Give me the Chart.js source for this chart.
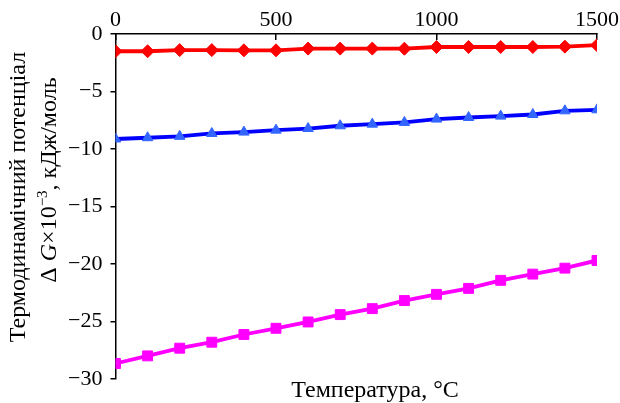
<!DOCTYPE html>
<html>
<head>
<meta charset="utf-8">
<script src="https://cdn.jsdelivr.net/npm/chart.js@4/dist/chart.umd.min.js"></script>
<style>
  html, body { margin: 0; padding: 0; background: #fff; }
  #wrap { width: 620px; height: 403px; }
</style>
</head>
<body>
<div id="wrap"><canvas id="c" width="620" height="403"></canvas></div>
<script>
// ---- data ----
const temperatures = [0, 100, 200, 300, 400, 500, 600, 700, 800, 900, 1000, 1100, 1200, 1300, 1400, 1500];
const seriesRed = [-1.5, -1.5, -1.4, -1.4, -1.42, -1.42, -1.27, -1.27, -1.27, -1.28, -1.13, -1.13, -1.13, -1.13, -1.1, -0.97];
const seriesBlue = [-9.13, -9.02, -8.90, -8.65, -8.53, -8.36, -8.22, -7.98, -7.84, -7.69, -7.40, -7.26, -7.14, -7.00, -6.68, -6.59];
const seriesMagenta = [-28.65, -27.99, -27.32, -26.80, -26.13, -25.59, -25.04, -24.40, -23.88, -23.18, -22.64, -22.12, -21.42, -20.88, -20.36, -19.69];
const xTicks = [0, 500, 1000, 1500];
const yTicks = [0, -5, -10, -15, -20, -25, -30];
const xTitle = 'Температура, °С';
const yTitleLine1 = 'Термодинамічний потенціал';
const yTitleLine2 = [
  { t: 'Δ ', style: 'normal' },
  { t: 'G', style: 'italic' },
  { t: '×10', style: 'normal' },
  { t: '−3', style: 'sup' },
  { t: ', кДж/моль', style: 'normal' }
];

const FONT = "'Liberation Serif', 'Times New Roman', serif";
const toPts = arr => temperatures.map((t, i) => ({ x: t, y: arr[i] }));
const fmt = v => (v < 0 ? '−' + Math.abs(v) : String(v));

const titlesPlugin = {
  id: 'titles',
  afterDraw(chart) {
    const ctx = chart.ctx;
    ctx.save();
    ctx.fillStyle = '#000';
    ctx.textBaseline = 'alphabetic';
    // x title (bottom)
    ctx.font = '24px ' + FONT;
    ctx.textAlign = 'center';
    ctx.fillText(xTitle, 375, 397);
    // y title line 1
    ctx.save();
    ctx.translate(25, 197);
    ctx.rotate(-Math.PI / 2);
    ctx.font = '24px ' + FONT;
    ctx.textAlign = 'center';
    ctx.fillText(yTitleLine1, 0, 0);
    ctx.restore();
    // y title line 2
    ctx.save();
    ctx.translate(56, 180);
    ctx.rotate(-Math.PI / 2);
    ctx.textAlign = 'left';
    const fontFor = s => s === 'italic' ? 'italic 24px ' + FONT : (s === 'sup' ? '15px ' + FONT : '24px ' + FONT);
    let total = 0;
    yTitleLine2.forEach(seg => { ctx.font = fontFor(seg.style); total += ctx.measureText(seg.t).width; });
    let x = -total / 2;
    yTitleLine2.forEach(seg => {
      ctx.font = fontFor(seg.style);
      ctx.fillText(seg.t, x, seg.style === 'sup' ? -9 : 0);
      x += ctx.measureText(seg.t).width;
    });
    ctx.restore();
    ctx.restore();
  }
};

new Chart(document.getElementById('c'), {
  type: 'line',
  data: {
    datasets: [
      {
        label: 'red', data: toPts(seriesRed),
        borderColor: '#ff0000', backgroundColor: '#ff0000',
        borderWidth: 3.8, pointStyle: 'rectRot', pointRadius: 6.5,
        pointBorderWidth: 1, pointBorderColor: '#ff0000', pointBackgroundColor: '#ff0000'
      },
      {
        label: 'blue', data: toPts(seriesBlue),
        borderColor: '#0000ff', backgroundColor: '#3366ff',
        borderWidth: 3.8, pointStyle: 'triangle', pointRadius: 6,
        pointBorderWidth: 1, pointBorderColor: '#3366ff', pointBackgroundColor: '#3366ff'
      },
      {
        label: 'magenta', data: toPts(seriesMagenta),
        borderColor: '#ff00ff', backgroundColor: '#ff00ff',
        borderWidth: 3.8, pointStyle: 'rect', pointRadius: 7,
        pointBorderWidth: 1, pointBorderColor: '#ff00ff', pointBackgroundColor: '#ff00ff'
      }
    ]
  },
  options: {
    responsive: false,
    animation: false,
    layout: { padding: { top: 0, left: 0, right: 23, bottom: 24 } },
    plugins: { legend: { display: false }, tooltip: { enabled: false } },
    elements: { line: { tension: 0 } },
    scales: {
      x: {
        type: 'linear', position: 'top', min: 0, max: 1500,
        afterBuildTicks: s => { s.ticks = xTicks.map(v => ({ value: v })); },
        afterFit: s => { s.height = 34; s.paddingRight = 0; s.paddingLeft = 0; },
        ticks: { color: '#000', font: { family: FONT, size: 22 }, padding: 7, maxRotation: 0, callback: v => fmt(v) },
        grid: { drawOnChartArea: false, tickLength: -6, color: '#000', lineWidth: 1.5 },
        border: { color: '#000', width: 1.5 }
      },
      y: {
        type: 'linear', position: 'left', min: -30, max: 0,
        afterBuildTicks: s => { s.ticks = yTicks.map(v => ({ value: v })); },
        afterFit: s => { s.width = 115.5; s.paddingTop = 0; s.paddingBottom = 0; },
        ticks: { color: '#000', font: { family: FONT, size: 22 }, padding: 8, callback: v => fmt(v) },
        grid: { drawOnChartArea: false, tickLength: 5, color: '#000', lineWidth: 1.5 },
        border: { color: '#000', width: 1.5 }
      }
    }
  },
  plugins: [titlesPlugin]
});
</script>
</body>
</html>
